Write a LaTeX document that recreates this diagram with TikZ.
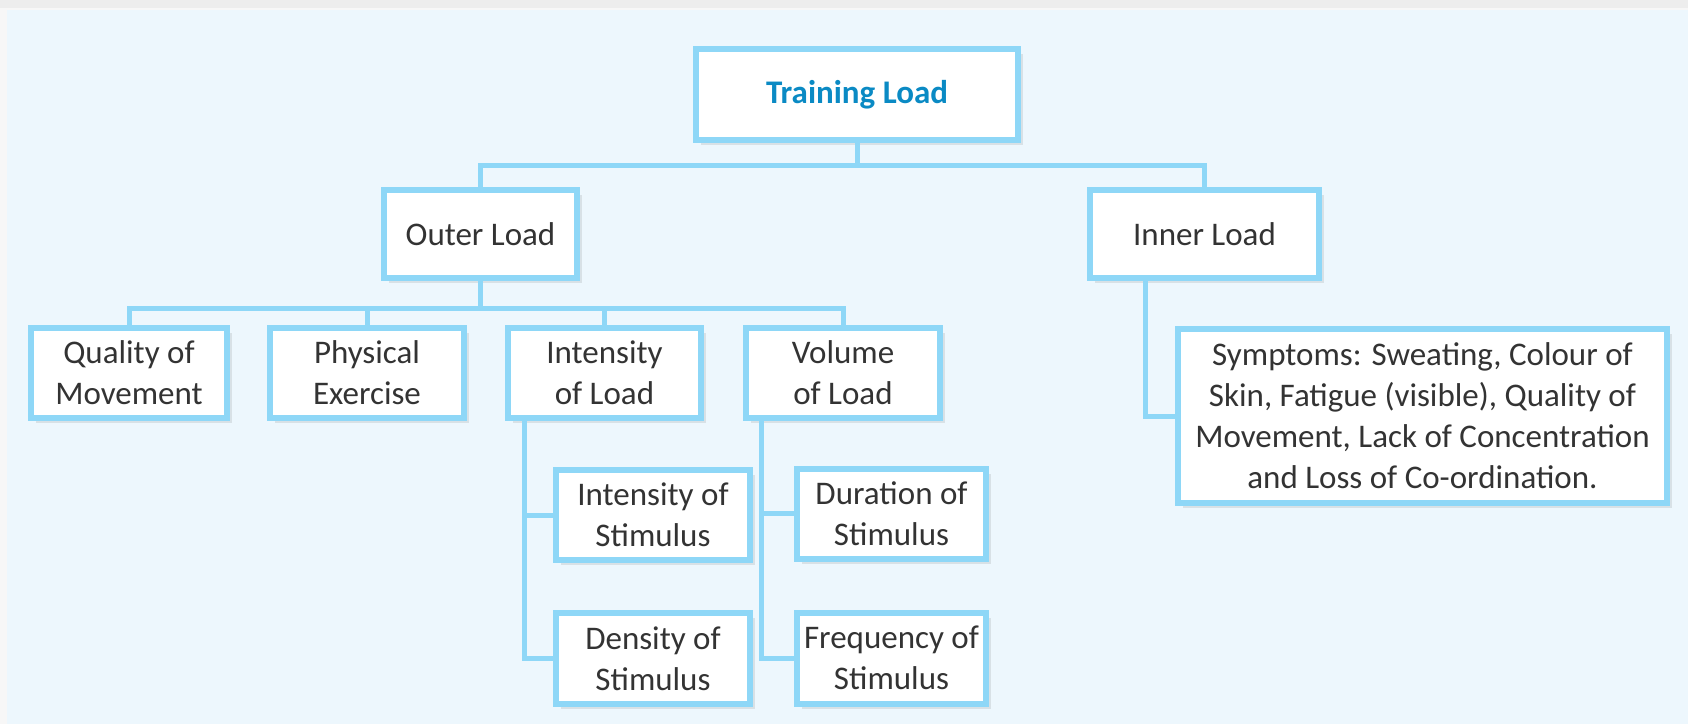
\documentclass[tikz,border=0pt]{standalone}
\usepackage{fontspec}
\setmainfont{Carlito}
\usetikzlibrary{positioning, shadows}

\definecolor{panelbg}{HTML}{EDF7FD}
\definecolor{boxline}{HTML}{8ED7F7}
\definecolor{titleblue}{HTML}{0A8AC4}
\definecolor{textgray}{HTML}{333333}

\begin{document}
\begin{tikzpicture}[x=0.5pt, y=-0.5pt,
    loadbox/.style={draw=boxline, line width=3pt, fill=white, align=center,
        text=textgray, font=\fontsize{16.5}{20.5}\selectfont, inner sep=0pt,
        drop shadow={shadow xshift=2.5pt, shadow yshift=-2.5pt,
            fill=black!60, opacity=0.15}},
    link/.style={draw=boxline, line width=2.5pt}]

    % ==========================================
    % 1. PANEL
    % ==========================================
    \useasboundingbox (0,0) rectangle (1688,724);
    \fill[gray!6] (0,0) rectangle (1688,724);
    \fill[gray!14] (0,0) rectangle (1688,8);
    \fill[panelbg] (7,10) rectangle (1688,724);

    % ==========================================
    % 2. BAR HEIGHTS
    % ==========================================
    \coordinate (barA) at (0,165);
    \coordinate (barB) at (0,308);

    % ==========================================
    % 3. TOP AND FIRST LEVEL
    % ==========================================
    \node[loadbox, minimum width=161pt, minimum height=45.5pt,
        font=\fontsize{16.5}{20.5}\selectfont\bfseries, text=titleblue]
        (training) at (857,94.5) {Training Load};

    \node[loadbox, minimum width=96.5pt, minimum height=44pt]
        (outer) at (480.5,234) {Outer Load};
    \node[loadbox, minimum width=114.5pt, minimum height=44pt]
        (inner) at (1204.5,234) {Inner Load};

    % ==========================================
    % 4. OUTER LOAD CHILDREN
    % ==========================================
    \node[loadbox, minimum width=98pt, minimum height=45pt]
        (quality) at (129,373) {Quality of\\Movement};
    \node[loadbox, minimum width=97pt, minimum height=45pt]
        (physical) at (367,373) {Physical\\Exercise};
    \node[loadbox, minimum width=96.5pt, minimum height=45pt]
        (intload) at (604.5,373) {Intensity\\of Load};
    \node[loadbox, minimum width=97pt, minimum height=45pt]
        (volload) at (843,373) {Volume\\of Load};

    % stimulus boxes under intensity and volume
    \node[loadbox, minimum width=97pt, minimum height=45pt]
        (intstim) at (653,515) {Intensity of\\Stimulus};
    \node[loadbox, minimum width=97pt, minimum height=45.5pt,
        below=23.5pt of intstim] (density) {Density of\\Stimulus};
    \node[loadbox, minimum width=94.5pt, minimum height=45pt]
        (duration) at (891.5,513.5) {Duration of\\Stimulus};
    \node[loadbox, minimum width=94.5pt, minimum height=45.5pt,
        below=24pt of duration] (frequency) {Frequency of\\Stimulus};

    % ==========================================
    % 5. INNER LOAD CHILD
    % ==========================================
    \node[loadbox, minimum width=244.5pt, minimum height=87pt]
        (symptoms) at (1422.5,416)
        {Symptoms: Sweating, Colour of\\Skin, Fatigue (visible), Quality of\\Movement, Lack of Concentration\\and Loss of Co-ordination.};

    % ==========================================
    % 6. CONNECTORS
    % ==========================================
    \coordinate (spineI) at ([xshift=9.5pt]intload.south west);
    \coordinate (spineV) at ([xshift=9pt]volload.south west);
    \coordinate (spineR) at ([xshift=29pt]inner.south west);

    \draw[link] (training.south) -- (training |- barA);
    \draw[link] (outer.north) |- (training |- barA) -| (inner.north);

    \draw[link] (outer.south) -- (outer |- barB);
    \draw[link] (quality.north) |- (volload |- barB) -- (volload.north);
    \draw[link] (physical.north) -- (physical |- barB);
    \draw[link] (intload.north) -- (intload |- barB);

    \draw[link] (spineI) |- (density.west);
    \draw[link] (intstim.west) -- (intstim.west -| spineI);
    \draw[link] (spineV) |- (frequency.west);
    \draw[link] (duration.west) -- (duration.west -| spineV);

    \draw[link] (spineR) |- (symptoms.west);

\end{tikzpicture}
\end{document}
